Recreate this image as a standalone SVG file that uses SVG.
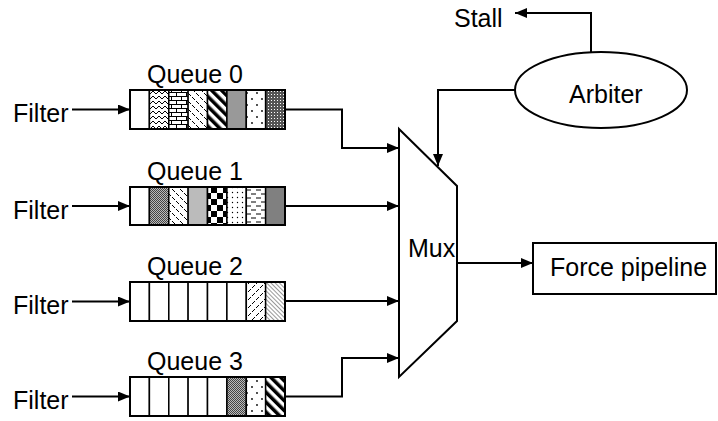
<svg xmlns="http://www.w3.org/2000/svg" width="718" height="421" viewBox="0 0 718 421">
<style>
text{font-family:"Liberation Sans",Arial,sans-serif;font-size:25px;fill:#000}
.conn{fill:none;stroke:#000;stroke-width:2}
.box{fill:none;stroke:#000;stroke-width:2}
.cell{stroke:#000;stroke-width:1.5}
</style>
<defs>
<marker id="arr" viewBox="0 0 12 10" refX="12" refY="5" markerWidth="12" markerHeight="10" markerUnits="userSpaceOnUse" orient="auto"><path d="M0,0 L12,5 L0,10 z" fill="#000"/></marker>
<pattern id="zigzag" width="6" height="5" patternUnits="userSpaceOnUse"><rect width="6" height="5" fill="#fff"/><polyline points="0,4 3,1 6,4" fill="none" stroke="#000" stroke-width="1"/></pattern>
<pattern id="brick" width="10" height="8" patternUnits="userSpaceOnUse"><rect width="10" height="8" fill="#fff"/><path d="M0,0.5H10M0,4.5H10M1.5,0.5V4.5M6.5,4.5V8" stroke="#000" stroke-width="1"/></pattern>
<pattern id="dashdn" width="8" height="8" patternUnits="userSpaceOnUse"><rect width="8" height="8" fill="#fff"/><path d="M0,1L3,4M4,5L7,8" stroke="#000" stroke-width="1"/></pattern>
<pattern id="dashup" width="8" height="8" patternUnits="userSpaceOnUse"><rect width="8" height="8" fill="#fff"/><path d="M0,4L3,1M4,8L7,5" stroke="#000" stroke-width="1"/></pattern>
<pattern id="widedn" width="7" height="7" patternUnits="userSpaceOnUse" patternTransform="rotate(-45)"><rect width="7" height="7" fill="#fff"/><rect width="3.5" height="7" fill="#000"/></pattern>
<pattern id="lightdn" width="3" height="3" patternUnits="userSpaceOnUse" patternTransform="rotate(-45)"><rect width="3" height="3" fill="#fff"/><rect width="1" height="3" fill="#999"/></pattern>
<pattern id="sparse" width="10" height="12" patternUnits="userSpaceOnUse"><rect width="10" height="12" fill="#fff"/><circle cx="2" cy="3" r="0.9" fill="#000"/><circle cx="7" cy="9" r="0.9" fill="#000"/></pattern>
<pattern id="xhatch" width="3" height="3" patternUnits="userSpaceOnUse"><rect width="3" height="3" fill="#555"/><rect x="1" y="1" width="1" height="1" fill="#fff"/></pattern>
<pattern id="stipple" width="2" height="2" patternUnits="userSpaceOnUse"><rect width="2" height="2" fill="#bbb"/><rect width="1" height="1" fill="#444"/><rect x="1" y="1" width="1" height="1" fill="#444"/></pattern>
<pattern id="check" width="12" height="12" patternUnits="userSpaceOnUse" x="1" y="1"><rect width="12" height="12" fill="#fff"/><rect width="6" height="6" fill="#000"/><rect x="6" y="6" width="6" height="6" fill="#000"/></pattern>
<pattern id="dotgrid" width="5" height="5" patternUnits="userSpaceOnUse"><rect width="5" height="5" fill="#fff"/><circle cx="2.5" cy="2.5" r="0.7" fill="#000"/></pattern>
<pattern id="dashh" width="10" height="8" patternUnits="userSpaceOnUse"><rect width="10" height="8" fill="#fff"/><path d="M1,2H6M6,6H10M0,6H1" stroke="#000" stroke-width="1"/></pattern>
</defs>

<g id="filter0"><text x="13" y="122">Filter</text></g>
<g id="filter1"><text x="13" y="219">Filter</text></g>
<g id="filter2"><text x="13" y="314">Filter</text></g>
<g id="filter3"><text x="13" y="409">Filter</text></g>

<g id="queue0">
<text x="147" y="83">Queue 0</text>
<rect class="cell" x="130" y="90" width="19.4" height="39" fill="#fff"/>
<rect class="cell" x="149.4" y="90" width="19.4" height="39" fill="url(#zigzag)"/>
<rect class="cell" x="168.8" y="90" width="19.4" height="39" fill="url(#brick)"/>
<rect class="cell" x="188.1" y="90" width="19.4" height="39" fill="url(#dashdn)"/>
<rect class="cell" x="207.5" y="90" width="19.4" height="39" fill="url(#widedn)"/>
<rect class="cell" x="226.9" y="90" width="19.4" height="39" fill="#999"/>
<rect class="cell" x="246.3" y="90" width="19.4" height="39" fill="url(#sparse)"/>
<rect class="cell" x="265.6" y="90" width="19.4" height="39" fill="url(#xhatch)"/>
<rect class="box" x="130" y="90" width="155" height="39"/>
</g>

<g id="queue1">
<text x="147" y="180">Queue 1</text>
<rect class="cell" x="130" y="187" width="19.4" height="38" fill="#fff"/>
<rect class="cell" x="149.4" y="187" width="19.4" height="38" fill="url(#stipple)"/>
<rect class="cell" x="168.8" y="187" width="19.4" height="38" fill="url(#dashdn)"/>
<rect class="cell" x="188.1" y="187" width="19.4" height="38" fill="#bbb"/>
<rect class="cell" x="207.5" y="187" width="19.4" height="38" fill="url(#check)"/>
<rect class="cell" x="226.9" y="187" width="19.4" height="38" fill="url(#dotgrid)"/>
<rect class="cell" x="246.3" y="187" width="19.4" height="38" fill="url(#dashh)"/>
<rect class="cell" x="265.6" y="187" width="19.4" height="38" fill="#808080"/>
<rect class="box" x="130" y="187" width="155" height="38"/>
</g>

<g id="queue2">
<text x="147" y="275">Queue 2</text>
<rect class="cell" x="130" y="282" width="19.4" height="39" fill="#fff"/>
<rect class="cell" x="149.4" y="282" width="19.4" height="39" fill="#fff"/>
<rect class="cell" x="168.8" y="282" width="19.4" height="39" fill="#fff"/>
<rect class="cell" x="188.1" y="282" width="19.4" height="39" fill="#fff"/>
<rect class="cell" x="207.5" y="282" width="19.4" height="39" fill="#fff"/>
<rect class="cell" x="226.9" y="282" width="19.4" height="39" fill="#fff"/>
<rect class="cell" x="246.3" y="282" width="19.4" height="39" fill="url(#dashup)"/>
<rect class="cell" x="265.6" y="282" width="19.4" height="39" fill="url(#lightdn)"/>
<rect class="box" x="130" y="282" width="155" height="39"/>
</g>

<g id="queue3">
<text x="147" y="370">Queue 3</text>
<rect class="cell" x="130" y="377" width="19.4" height="39" fill="#fff"/>
<rect class="cell" x="149.4" y="377" width="19.4" height="39" fill="#fff"/>
<rect class="cell" x="168.8" y="377" width="19.4" height="39" fill="#fff"/>
<rect class="cell" x="188.1" y="377" width="19.4" height="39" fill="#fff"/>
<rect class="cell" x="207.5" y="377" width="19.4" height="39" fill="#fff"/>
<rect class="cell" x="226.9" y="377" width="19.4" height="39" fill="url(#stipple)"/>
<rect class="cell" x="246.3" y="377" width="19.4" height="39" fill="url(#sparse)"/>
<rect class="cell" x="265.6" y="377" width="19.4" height="39" fill="url(#widedn)"/>
<rect class="box" x="130" y="377" width="155" height="39"/>
</g>

<g id="mux">
<polygon points="399,129 457,186 457,321 399,377" fill="#fff" stroke="#000" stroke-width="2"/>
<text x="408" y="257">Mux</text>
</g>

<g id="arbiter">
<ellipse cx="601" cy="90" rx="86" ry="38" fill="#fff" stroke="#000" stroke-width="2"/>
<text x="569" y="103">Arbiter</text>
</g>

<g id="stall"><text x="454" y="27">Stall</text></g>

<g id="force">
<rect x="533" y="243" width="183" height="51" fill="#fff" stroke="#000" stroke-width="2"/>
<text x="550" y="276">Force pipeline</text>
</g>

<g id="connectors">
<path class="conn" d="M72,109.5H130" marker-end="url(#arr)"/>
<path class="conn" d="M72,206H130" marker-end="url(#arr)"/>
<path class="conn" d="M72,301.5H130" marker-end="url(#arr)"/>
<path class="conn" d="M72,396.5H130" marker-end="url(#arr)"/>
<path class="conn" d="M285,109.5H342V148H399" marker-end="url(#arr)"/>
<path class="conn" d="M285,206H399" marker-end="url(#arr)"/>
<path class="conn" d="M285,301H399" marker-end="url(#arr)"/>
<path class="conn" d="M285,396.5H342V358H399" marker-end="url(#arr)"/>
<path class="conn" d="M515,90H438V166" marker-end="url(#arr)"/>
<path class="conn" d="M591,52V13H515" marker-end="url(#arr)"/>
<path class="conn" d="M457,263H533" marker-end="url(#arr)"/>
</g>
</svg>
